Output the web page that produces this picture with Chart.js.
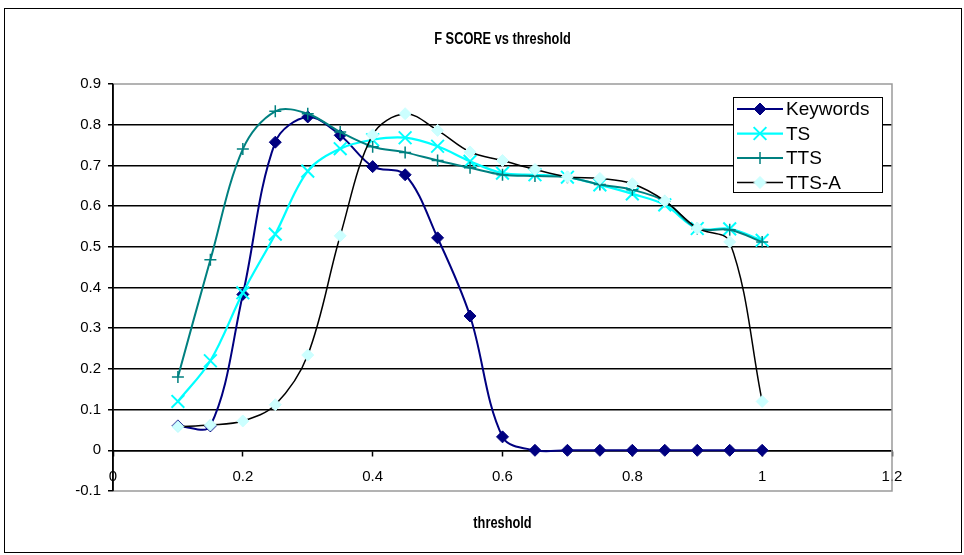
<!DOCTYPE html>
<html>
<head>
<meta charset="utf-8">
<title>F SCORE vs threshold</title>
<script src="https://cdn.jsdelivr.net/npm/chart.js@4.4.1/dist/chart.umd.min.js"></script>
<style>
    html, body { margin: 0; padding: 0; background: #fff; }
    #wrap { width: 964px; height: 555px; position: relative; }
</style>
</head>
<body>
<div id="wrap"><canvas id="chart-fscore" width="964" height="555"></canvas></div>
<script>
// thresholds on the x axis
const thresholds = [0.1, 0.15, 0.2, 0.25, 0.3, 0.35, 0.4, 0.45, 0.5, 0.55, 0.6, 0.65, 0.7, 0.75, 0.8, 0.85, 0.9, 0.95, 1.0];

const keywords = [0.06, 0.06, 0.383, 0.757, 0.819, 0.774, 0.697, 0.677, 0.522, 0.33, 0.033, 0, 0, 0, 0, 0, 0, 0, 0];
const ts = [0.12, 0.22, 0.387, 0.531, 0.686, 0.741, 0.763, 0.768, 0.747, 0.71, 0.681, 0.677, 0.671, 0.652, 0.63, 0.603, 0.545, 0.544, 0.516];
const tts = [0.18, 0.468, 0.74, 0.833, 0.827, 0.782, 0.746, 0.732, 0.712, 0.694, 0.677, 0.674, 0.671, 0.653, 0.64, 0.612, 0.545, 0.542, 0.512];
const ttsA = [0.058, 0.062, 0.072, 0.112, 0.234, 0.527, 0.775, 0.827, 0.786, 0.733, 0.712, 0.69, 0.672, 0.668, 0.655, 0.613, 0.546, 0.512, 0.12];

const xTicks = [0, 0.2, 0.4, 0.6, 0.8, 1.0, 1.2];
const xTickLabels = ['0', '0.2', '0.4', '0.6', '0.8', '1', '1.2'];
const yTicks = [-0.1, 0, 0.1, 0.2, 0.3, 0.4, 0.5, 0.6, 0.7, 0.8, 0.9];
const yTickLabels = ['-0.1', '0', '0.1', '0.2', '0.3', '0.4', '0.5', '0.6', '0.7', '0.8', '0.9'];

const FONT = '"Liberation Sans", Arial, sans-serif';

function toPoints(values) {
    return thresholds.map((x, i) => ({ x, y: values[i] }));
}

// marker drawing for the legend, matching the dataset point styles
function drawMarker(ctx, ds, x, y) {
    const r = ds.pointRadius;
    ctx.save();
    ctx.strokeStyle = ds.pointBorderColor;
    ctx.fillStyle = ds.pointBackgroundColor;
    ctx.lineWidth = ds.pointBorderWidth;
    ctx.beginPath();
    if (ds.pointStyle === 'rectRot') {
        ctx.moveTo(x - r, y);
        ctx.lineTo(x, y - r);
        ctx.lineTo(x + r, y);
        ctx.lineTo(x, y + r);
        ctx.closePath();
        ctx.fill();
        ctx.stroke();
    } else if (ds.pointStyle === 'crossRot') {
        const d = r * Math.SQRT1_2;
        ctx.moveTo(x - d, y - d);
        ctx.lineTo(x + d, y + d);
        ctx.moveTo(x - d, y + d);
        ctx.lineTo(x + d, y - d);
        ctx.stroke();
    } else {
        ctx.moveTo(x - r, y);
        ctx.lineTo(x + r, y);
        ctx.moveTo(x, y - r);
        ctx.lineTo(x, y + r);
        ctx.stroke();
    }
    ctx.restore();
}

// bold title text, a little condensed like the original
function drawTitle(ctx, text, x, y) {
    ctx.save();
    ctx.translate(x, y);
    ctx.scale(0.8, 1);
    ctx.font = 'bold 16px ' + FONT;
    ctx.textAlign = 'center';
    ctx.textBaseline = 'middle';
    ctx.fillStyle = '#000';
    ctx.fillText(text, 0, 0);
    ctx.restore();
}

const framePlugin = {
    id: 'frame',
    beforeDatasetsDraw(chart) {
        const { ctx, chartArea: a } = chart;
        ctx.save();
        ctx.strokeStyle = '#9a9a9a';
        ctx.lineWidth = 1.5;
        ctx.beginPath();
        ctx.moveTo(a.left, a.top);
        ctx.lineTo(a.right, a.top);
        ctx.lineTo(a.right, a.bottom);
        ctx.lineTo(a.left, a.bottom);
        ctx.stroke();
        // y axis line on top of the border
        ctx.strokeStyle = '#000';
        ctx.beginPath();
        ctx.moveTo(a.left, a.top);
        ctx.lineTo(a.left, a.bottom);
        ctx.stroke();
        ctx.restore();
    },
    afterDraw(chart) {
        const { ctx, chartArea: a } = chart;
        const cx = (a.left + a.right) / 2;
        ctx.save();

        // outer chart border
        ctx.strokeStyle = '#000';
        ctx.lineWidth = 1;
        ctx.strokeRect(4.5, 8.5, 957, 544);

        drawTitle(ctx, 'F SCORE vs threshold', cx, 40);
        drawTitle(ctx, 'threshold', cx, 524);

        // legend box inside the plot
        const box = { left: 733, top: 97, width: 149, height: 95 };
        ctx.fillStyle = '#fff';
        ctx.fillRect(box.left, box.top, box.width, box.height);
        ctx.strokeStyle = '#000';
        ctx.lineWidth = 1;
        ctx.strokeRect(box.left + 0.5, box.top + 0.5, box.width, box.height);

        ctx.font = '19px ' + FONT;
        ctx.textAlign = 'left';
        ctx.textBaseline = 'middle';
        chart.data.datasets.forEach((ds, i) => {
            const y = box.top + 12 + i * 24.5;
            ctx.strokeStyle = ds.borderColor;
            ctx.lineWidth = ds.borderWidth;
            ctx.beginPath();
            ctx.moveTo(box.left + 4, y);
            ctx.lineTo(box.left + 50, y);
            ctx.stroke();
            drawMarker(ctx, ds, box.left + 27, y);
            ctx.fillStyle = '#000';
            ctx.fillText(ds.label, box.left + 53, y + 1);
        });
        ctx.restore();
    },
};

const datasets = [
    {
        label: 'Keywords',
        data: toPoints(keywords),
        borderColor: '#000080',
        borderWidth: 2,
        pointStyle: 'rectRot',
        pointRadius: 6,
        pointBackgroundColor: '#000080',
        pointBorderColor: '#000080',
        pointBorderWidth: 1,
        order: 4,
    },
    {
        label: 'TS',
        data: toPoints(ts),
        borderColor: '#00ffff',
        borderWidth: 2.25,
        pointStyle: 'crossRot',
        pointRadius: 9,
        pointBackgroundColor: '#00ffff',
        pointBorderColor: '#00ffff',
        pointBorderWidth: 2,
        order: 3,
    },
    {
        label: 'TTS',
        data: toPoints(tts),
        borderColor: '#008080',
        borderWidth: 2,
        pointStyle: 'cross',
        pointRadius: 6,
        pointBackgroundColor: '#008080',
        pointBorderColor: '#008080',
        pointBorderWidth: 1.5,
        order: 2,
    },
    {
        label: 'TTS-A',
        data: toPoints(ttsA),
        borderColor: '#000000',
        borderWidth: 1.5,
        pointStyle: 'rectRot',
        pointRadius: 6,
        pointBackgroundColor: '#ccffff',
        pointBorderColor: '#ccffff',
        pointBorderWidth: 1,
        order: 1,
    },
];

new Chart(document.getElementById('chart-fscore').getContext('2d'), {
    type: 'line',
    data: { datasets },
    options: {
        responsive: false,
        animation: false,
        events: [],
        layout: {
            autoPadding: false,
            padding: { left: 4, top: 84, right: 72, bottom: 64 },
        },
        elements: {
            line: { tension: 0.35, fill: false },
        },
        plugins: {
            legend: { display: false },
            title: { display: false },
            tooltip: { enabled: false },
        },
        scales: {
            x: {
                type: 'linear',
                position: { y: 0 },
                min: 0,
                max: 1.2,
                afterFit(s) { s.height = 0; },
                afterBuildTicks(s) { s.ticks = xTicks.map((v) => ({ value: v })); },
                ticks: {
                    callback: (v, i) => xTickLabels[i],
                    color: '#000',
                    font: { family: FONT, size: 15 },
                    padding: 13,
                    maxRotation: 0,
                    autoSkip: false,
                },
                grid: { drawOnChartArea: false, drawTicks: true, tickLength: 5, tickColor: '#000', tickWidth: 1.5 },
                border: { color: '#000', width: 1.5 },
            },
            y: {
                type: 'linear',
                min: -0.1,
                max: 0.9,
                afterFit(s) { s.width = 109; },
                afterBuildTicks(s) { s.ticks = yTicks.map((v) => ({ value: v })); },
                ticks: {
                    callback: (v, i) => yTickLabels[i],
                    color: '#000',
                    font: { family: FONT, size: 15 },
                    padding: 7,
                },
                grid: {
                    color: (c) => (c.index === 0 || c.index === yTicks.length - 1 ? 'rgba(0,0,0,0)' : '#000'),
                    lineWidth: 1.5,
                    tickLength: 5,
                    tickColor: '#000',
                    tickWidth: 1.5,
                },
                border: { color: '#000', width: 1.5 },
            },
        },
    },
    plugins: [framePlugin],
});
</script>
</body>
</html>
